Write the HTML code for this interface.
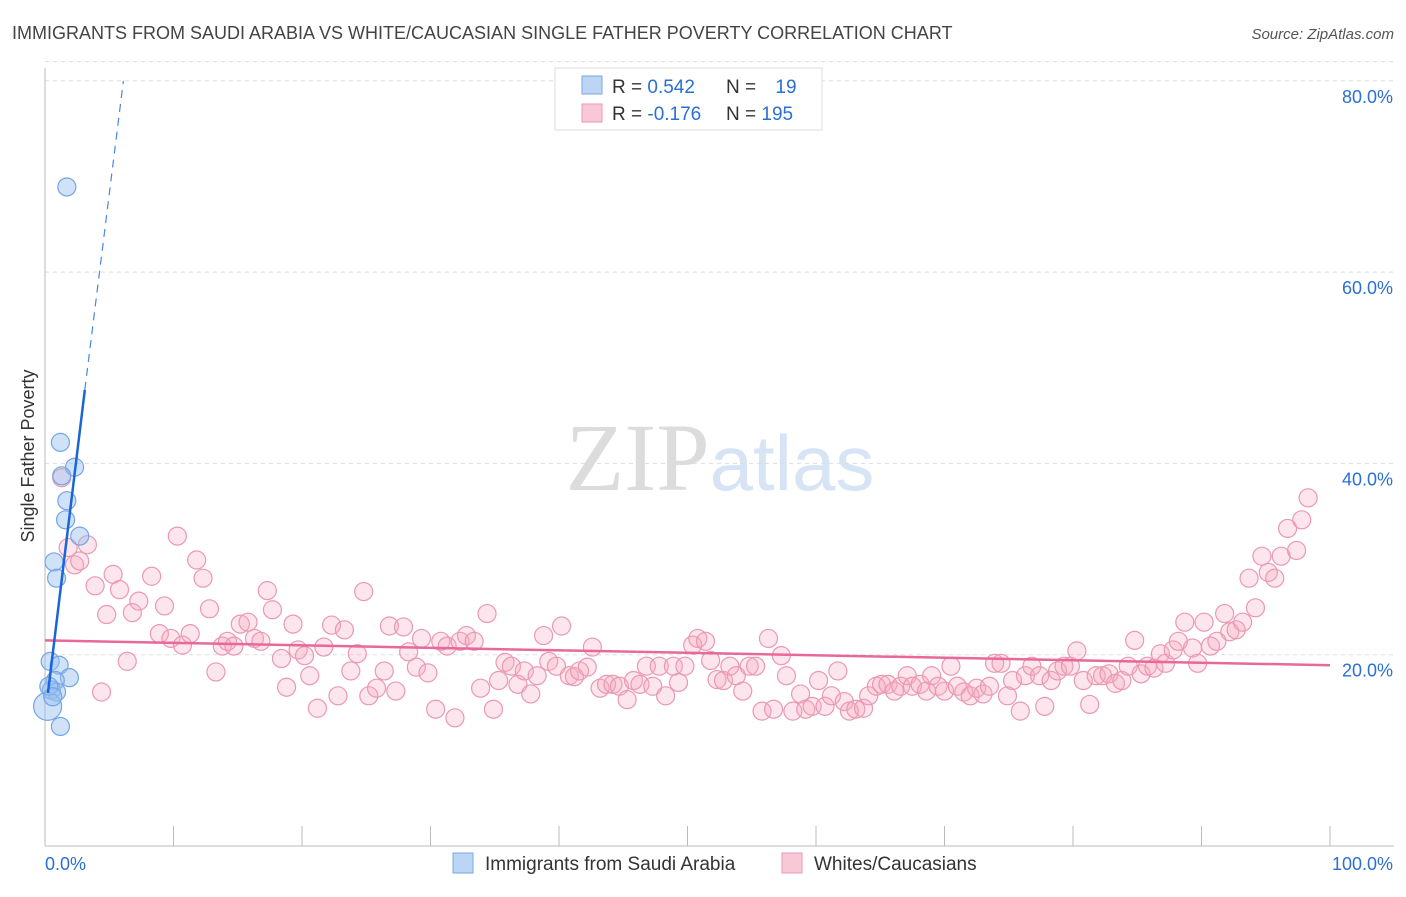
<!DOCTYPE html>
<html><head><meta charset="utf-8"><style>
body{margin:0;background:#fff;font-family:"Liberation Sans",sans-serif;}
svg text{font-family:"Liberation Sans",sans-serif;}
</style></head><body>
<svg id="chart" width="1406" height="892" xmlns="http://www.w3.org/2000/svg">
<text x="12" y="39" font-size="18" fill="#444">IMMIGRANTS FROM SAUDI ARABIA VS WHITE/CAUCASIAN SINGLE FATHER POVERTY CORRELATION CHART</text>
<text x="1394" y="39" font-size="15" fill="#555" text-anchor="end" font-style="italic">Source: ZipAtlas.com</text>
<text x="720" y="490" font-size="96" text-anchor="middle" fill="#e4e4e4"><tspan font-family="Liberation Serif" fill="#dcdcdc">ZIP</tspan><tspan fill="#d6e4f5" font-size="78">atlas</tspan></text>
<g id="grid"></g>
<g id="axes"></g>
<g id="pts"></g>
<g id="trends"></g>
<text transform="translate(34,456) rotate(-90)" font-size="18" fill="#333" text-anchor="middle">Single Father Poverty</text>
<g>
<rect x="555" y="68" width="267" height="62" fill="#fff" stroke="#ddd"/>
<rect x="582" y="76" width="20" height="18" fill="#bcd5f5" stroke="#7aa7e0"/>
<rect x="582" y="104" width="20" height="18" fill="#f9c8d6" stroke="#ea9ab3"/>
<text x="612" y="93" font-size="19" fill="#333">R = <tspan fill="#2a6fd6">0.542</tspan></text>
<text x="726" y="93" font-size="19" fill="#333">N = <tspan fill="#2a6fd6" dx="14">19</tspan></text>
<text x="612" y="120" font-size="19" fill="#333">R = <tspan fill="#2a6fd6">-0.176</tspan></text>
<text x="726" y="120" font-size="19" fill="#333">N = <tspan fill="#2a6fd6">195</tspan></text>
</g>
<g>
<rect x="453" y="853" width="20" height="20" fill="#bcd5f5" stroke="#7aa7e0"/>
<text x="485" y="870" font-size="19" fill="#333">Immigrants from Saudi Arabia</text>
<rect x="782" y="853" width="20" height="20" fill="#f9c8d6" stroke="#ea9ab3"/>
<text x="814" y="870" font-size="19" fill="#333">Whites/Caucasians</text>
</g>
</svg>
<script>
const blueX=[1.7,1.2,2.3,1.3,1.7,1.6,2.7,0.7,0.9,0.4,1.1,1.9,0.8,0.5,0.9,0.2,1.2,0.3,0.6];
const blueY=[68.9,42.2,39.6,38.7,36.1,34.1,32.4,29.7,28.0,19.3,18.9,17.6,17.3,16.3,16.1,14.6,12.5,16.7,15.6];
const pinkX=[1.3,1.8,2.3,2.7,3.3,3.9,4.4,4.8,5.3,5.8,6.4,6.8,7.3,8.3,8.9,9.3,9.8,10.3,10.7,11.3,11.8,12.3,12.8,13.3,13.8,14.2,14.7,15.2,15.8,16.3,16.8,17.3,17.7,18.4,18.8,19.3,19.7,20.2,20.6,21.2,21.7,22.3,22.8,23.3,23.8,24.3,24.8,25.2,25.8,26.4,26.8,27.3,27.9,28.3,28.9,29.3,29.8,30.4,30.8,31.3,31.9,32.3,32.8,33.4,33.9,34.4,34.9,35.3,35.8,36.3,36.8,37.3,37.8,38.3,38.8,39.2,39.8,40.2,40.8,41.2,41.6,42.2,42.6,43.2,43.7,44.2,44.7,45.3,45.8,46.3,46.8,47.3,47.8,48.3,48.9,49.3,49.8,50.4,50.8,51.4,51.8,52.3,52.8,53.3,53.8,54.3,54.8,55.3,55.8,56.3,56.7,57.3,57.7,58.2,58.8,59.2,59.7,60.2,60.7,61.2,61.7,62.2,62.6,63.1,63.7,64.1,64.7,65.1,65.6,66.1,66.6,67.1,67.5,68.1,68.6,69.0,69.5,70.0,70.5,71.0,71.5,72.0,72.5,73.0,73.5,73.9,74.4,74.9,75.3,75.9,76.3,76.8,77.4,77.8,78.3,78.8,79.3,79.8,80.3,80.8,81.3,81.8,82.3,82.8,83.3,83.8,84.3,84.8,85.3,85.8,86.3,86.8,87.2,87.8,88.2,88.7,89.3,89.7,90.2,90.7,91.2,91.8,92.2,92.7,93.2,93.7,94.2,94.7,95.2,95.7,96.2,96.7,97.4,97.8,98.3];
const pinkY=[38.5,31.2,29.4,29.8,31.5,27.2,16.1,24.2,28.4,26.8,19.3,24.4,25.6,28.2,22.2,25.1,21.7,32.4,21.0,22.2,29.9,28.0,24.8,18.2,20.9,21.4,20.9,23.2,23.4,21.7,21.4,26.7,24.7,19.6,16.6,23.2,20.5,19.9,17.8,14.4,20.8,23.1,15.7,22.6,18.3,20.1,26.6,15.7,16.5,18.3,23.0,16.2,22.9,20.3,18.7,21.7,18.1,14.3,21.4,20.9,13.4,21.4,22.0,21.4,16.5,24.3,14.3,17.3,19.2,18.8,16.9,18.3,15.9,17.8,22.0,19.3,18.8,23.0,17.8,17.7,18.3,18.7,20.8,16.5,16.9,16.9,16.7,15.3,17.3,16.9,18.8,16.7,18.8,15.7,18.8,17.1,18.8,21.0,21.7,21.4,19.4,17.4,17.3,18.8,17.8,16.2,18.8,18.8,14.1,21.7,14.3,19.9,17.8,14.1,15.9,14.3,14.6,17.3,14.6,15.7,18.3,15.1,14.1,14.3,14.4,15.7,16.7,16.9,16.9,16.2,16.7,17.8,16.7,16.9,16.2,17.8,16.7,16.2,18.8,16.7,16.1,15.7,16.5,15.9,16.7,19.1,19.1,15.7,17.3,14.1,17.8,18.8,17.8,14.6,17.3,18.3,18.8,18.8,20.4,17.3,14.8,17.8,17.8,18.0,17.0,17.3,18.8,21.5,18.0,18.8,18.6,20.1,19.1,20.5,21.4,23.4,20.7,19.1,23.4,20.9,21.4,24.3,22.4,22.6,23.4,28.0,24.9,30.3,28.6,28.0,30.3,33.2,30.9,34.1,36.4];
const yTicks=[20,40,60,80];
const yTickLabels=["20.0%","40.0%","60.0%","80.0%"];
const xTicks=[0,10,20,30,40,50,60,70,80,90,100];
const blueTrend=[0.23,16.0,3.1,47.7];
const blueDashEnd=[6.1,80];
const pinkTrend=[0,21.5,100,18.9];

const X0=45,X1=1330,Y0=846,PY=9.565;
const sx=v=>X0+(X1-X0)*v/100;
const sy=v=>Y0-v*PY;
const NS="http://www.w3.org/2000/svg";
function mk(tag,attrs,parent){const e=document.createElementNS(NS,tag);for(const k in attrs)e.setAttribute(k,attrs[k]);parent.appendChild(e);return e;}
const grid=document.getElementById('grid'),axes=document.getElementById('axes'),pts=document.getElementById('pts'),tr=document.getElementById('trends');
yTicks.forEach((t,i)=>{
 const l=mk('line',{x1:X0,x2:1394,y1:sy(t),y2:sy(t),stroke:'#ddd','stroke-dasharray':'4,4'},grid);
 
 
 const tx=mk('text',{x:1393,y:sy(t)+22,'font-size':18,fill:'#2a6fd6','text-anchor':'end'},grid);
 tx.textContent=yTickLabels[i];
 
 
});
const tl=mk('line',{x1:X0,x2:1394,y1:sy(82),y2:sy(82),stroke:'#ddd','stroke-dasharray':'4,4'},grid);


const ya=mk('line',{x1:X0,x2:X0,y1:68,y2:Y0,stroke:'#bbb'},axes);


const xa=mk('line',{x1:X0,x2:1394,y1:Y0,y2:Y0,stroke:'#bbb'},axes);


xTicks.forEach(t=>{
 const l=mk('line',{x1:sx(t),x2:sx(t),y1:Y0,y2:Y0-20,stroke:'#bbb'},axes);
 
 
});
const xl0=mk('text',{x:45,y:870,'font-size':18,fill:'#2a6fd6'},axes);xl0.textContent='0.0%';


const xl1=mk('text',{x:1393,y:870,'font-size':18,fill:'#2a6fd6','text-anchor':'end'},axes);xl1.textContent='100.0%';


pinkX.forEach((x,i)=>{
 const c=mk('circle',{cx:sx(x),cy:sy(pinkY[i]),r:9,fill:'rgba(246,170,192,0.3)',stroke:'#eb98b2','stroke-width':1.2},pts);
 
 
});
blueX.forEach((x,i)=>{
 const c=mk('circle',{cx:sx(x),cy:sy(blueY[i]),r:(i===15?14:9),fill:'rgba(150,190,240,0.45)',stroke:'#74a5e4','stroke-width':1.2},pts);
 
 
});
const pt=mk('line',{x1:sx(pinkTrend[0]),y1:sy(pinkTrend[1]),x2:sx(pinkTrend[2]),y2:sy(pinkTrend[3]),stroke:'#e8689a','stroke-width':2.5},tr);


const bt=mk('line',{x1:sx(blueTrend[0]),y1:sy(blueTrend[1]),x2:sx(blueTrend[2]),y2:sy(blueTrend[3]),stroke:'#1a66d9','stroke-width':2.5},tr);


const bd=mk('line',{x1:sx(blueTrend[2]),y1:sy(blueTrend[3]),x2:sx(blueDashEnd[0]),y2:sy(blueDashEnd[1]),stroke:'#4a86e0','stroke-width':1.2,'stroke-dasharray':'8,6'},tr);


</script>
</body></html>
